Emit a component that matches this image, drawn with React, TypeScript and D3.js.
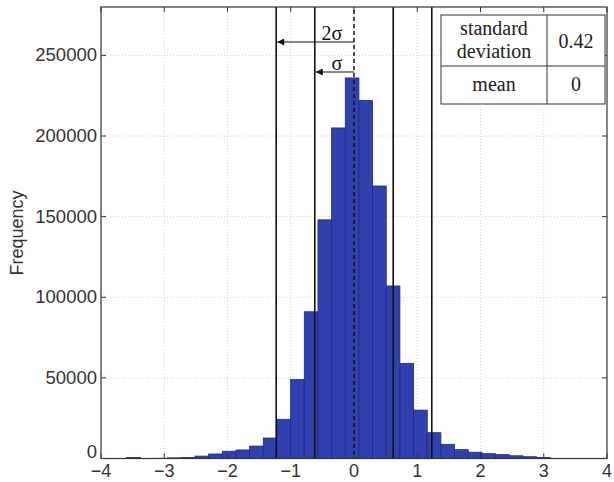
import React from "react";
import * as d3 from "d3";

// Histogram bin edges (left edges) and counts
const binEdges = [-3.594, -3.378, -3.162, -2.946, -2.73, -2.514, -2.298, -2.082, -1.866, -1.65, -1.434, -1.218, -1.002, -0.786, -0.57, -0.354, -0.138, 0.078, 0.294, 0.51, 0.726, 0.942, 1.158, 1.374, 1.59, 1.806, 2.022, 2.238, 2.454, 2.67, 2.886, 3.102];
const binCounts = [600, 0, 100, 400, 600, 1500, 2800, 4500, 5300, 7700, 12700, 24300, 49000, 91000, 148000, 205000, 236000, 222000, 169000, 107000, 59000, 30000, 16000, 8800, 5500, 3900, 3000, 2400, 1700, 1100, 600];

const xTicks = [-4, -3, -2, -1, 0, 1, 2, 3, 4];
const yTicks = [0, 50000, 100000, 150000, 200000, 250000];
const sigmaLines = [-1.23, -0.62, 0.62, 1.23];
const meanValue = 0;
const stdDev = "0.42";
const meanLabel = "0";

const W = 614, H = 482;
const left = 101, right = 607, top = 7, bottom = 458.5;

export default function App() {
  const x = d3.scaleLinear().domain([-4, 4]).range([left, right]);
  const y = d3.scaleLinear().domain([0, 280000]).range([bottom, top]);
  const sans = "'Liberation Sans', Arial, Helvetica, sans-serif";
  const serif = "'Liberation Serif', 'Times New Roman', serif";
  const bars = binCounts.map((c, i) => ({ x0: binEdges[i], x1: binEdges[i + 1], c }));
  const arrow2y = 42, arrow1y = 72;
  const tbl = { l: 441, m: 547, r: 605, t: 15, mid: 66, b: 104 };
  return (
    <svg width={W} height={H} style={{ position: "absolute", left: 0, top: 0, background: "#fff" }}>
      <defs>
        <marker id="ah" viewBox="0 0 10 10" refX="10" refY="5" markerWidth="8" markerHeight="7" orient="auto" markerUnits="userSpaceOnUse">
          <path d="M0,0 L10,5 L0,10 Z" fill="#111" />
        </marker>
      </defs>
      {/* grid */}
      {xTicks.slice(1, -1).map((t) => (
        <line key={"gx" + t} x1={x(t)} x2={x(t)} y1={top} y2={bottom} stroke="#d2d2d2" strokeWidth={1} strokeDasharray="1,2" />
      ))}
      {yTicks.slice(1).map((t) => (
        <line key={"gy" + t} x1={left} x2={right} y1={y(t)} y2={y(t)} stroke="#d2d2d2" strokeWidth={1} strokeDasharray="1,2" />
      ))}
      {/* bars */}
      {bars.filter((b) => b.c > 0).map((b, i) => (
        <rect key={"b" + i} x={x(b.x0)} y={y(b.c)} width={x(b.x1) - x(b.x0)} height={bottom - y(b.c)} fill="#3040ad" stroke="#1f2985" strokeWidth={0.8} />
      ))}
      {/* sigma lines */}
      {sigmaLines.map((s) => (
        <line key={"s" + s} x1={x(s)} x2={x(s)} y1={top} y2={bottom} stroke="#111" strokeWidth={1.6} />
      ))}
      {/* mean dashed line */}
      <line x1={x(meanValue)} x2={x(meanValue)} y1={10} y2={bottom} stroke="#111" strokeWidth={1.5} strokeDasharray="4,3" />
      {/* arrows */}
      <line x1={x(meanValue)} x2={x(sigmaLines[0]) + 1} y1={arrow2y} y2={arrow2y} stroke="#111" strokeWidth={1} markerEnd="url(#ah)" />
      <line x1={x(meanValue)} x2={x(sigmaLines[1]) + 1} y1={arrow1y} y2={arrow1y} stroke="#111" strokeWidth={1} markerEnd="url(#ah)" />
      <text x={332} y={40} textAnchor="middle" fontFamily={serif} fontSize={20} fill="#111">2σ</text>
      <text x={337} y={70} textAnchor="middle" fontFamily={serif} fontSize={20} fill="#111">σ</text>
      {/* axes box */}
      <rect x={left} y={top} width={right - left} height={bottom - top} fill="none" stroke="#333" strokeWidth={1.2} />
      {xTicks.map((t) => (
        <g key={"xt" + t}>
          <line x1={x(t)} x2={x(t)} y1={bottom} y2={bottom - 5} stroke="#333" />
          <line x1={x(t)} x2={x(t)} y1={top} y2={top + 5} stroke="#333" />
          <text x={x(t)} y={bottom + 18} textAnchor="middle" fontFamily={sans} fontSize={18} fill="#333">
            {t < 0 ? "\u2212" + Math.abs(t) : String(t)}
          </text>
        </g>
      ))}
      {yTicks.map((t) => (
        <g key={"yt" + t}>
          <line x1={left} x2={left + 5} y1={y(t)} y2={y(t)} stroke="#333" />
          <line x1={right} x2={right - 5} y1={y(t)} y2={y(t)} stroke="#333" />
          <text x={left - 4} y={y(t) + (t === 0 ? -1 : 6)} textAnchor="end" fontFamily={sans} fontSize={18.5} fill="#333">{t}</text>
        </g>
      ))}
      <text transform={`translate(23,${233}) rotate(-90)`} textAnchor="middle" fontFamily={sans} fontSize={18} fill="#333">Frequency</text>
      {/* table */}
      <rect x={tbl.l} y={tbl.t} width={tbl.r - tbl.l} height={tbl.b - tbl.t} fill="#fff" stroke="#333" strokeWidth={1} />
      <line x1={tbl.m} x2={tbl.m} y1={tbl.t} y2={tbl.b} stroke="#333" />
      <line x1={tbl.l} x2={tbl.r} y1={tbl.mid} y2={tbl.mid} stroke="#333" />
      <text x={(tbl.l + tbl.m) / 2} y={35} textAnchor="middle" fontFamily={serif} fontSize={20} fill="#222">standard</text>
      <text x={(tbl.l + tbl.m) / 2} y={58} textAnchor="middle" fontFamily={serif} fontSize={20} fill="#222">deviation</text>
      <text x={(tbl.m + tbl.r) / 2} y={48} textAnchor="middle" fontFamily={serif} fontSize={20} fill="#222">{stdDev}</text>
      <text x={(tbl.l + tbl.m) / 2} y={91} textAnchor="middle" fontFamily={serif} fontSize={20} fill="#222">mean</text>
      <text x={(tbl.m + tbl.r) / 2} y={91} textAnchor="middle" fontFamily={serif} fontSize={20} fill="#222">{meanLabel}</text>
    </svg>
  );
}
